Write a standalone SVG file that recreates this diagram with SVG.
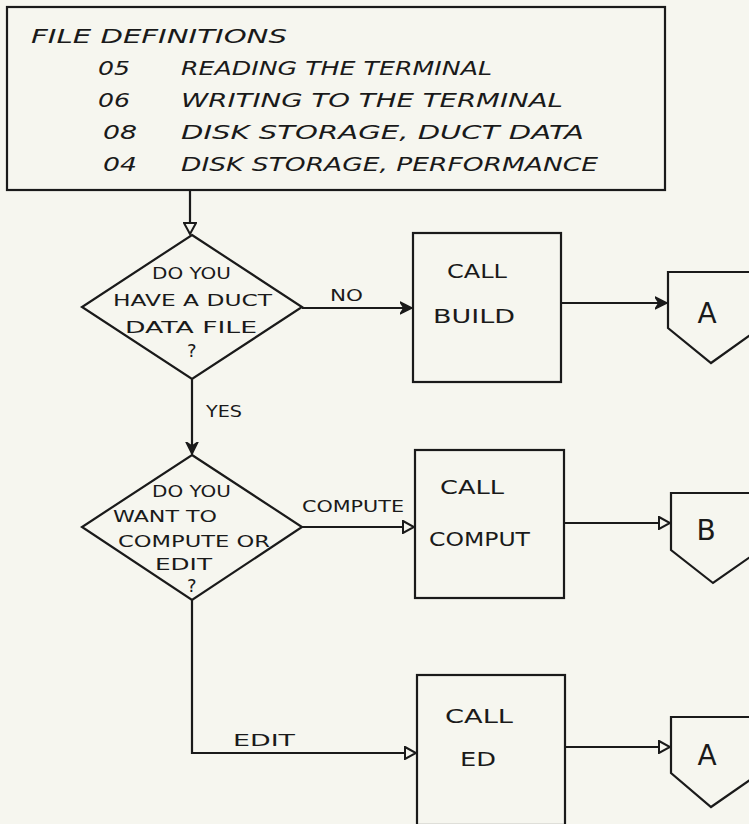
<svg xmlns="http://www.w3.org/2000/svg" width="749" height="824" viewBox="0 0 749 824">
<style>
.s{fill:none;stroke:#1a1a1a;stroke-width:2.2;stroke-linejoin:miter}
.t{font-family:"DejaVu Sans","Liberation Sans",Arial,sans-serif;fill:#1a1a1a}
.hi{font-size:19px;font-style:italic}
.d{font-size:15px}
.q{font-size:18px}
.b{font-size:20px}
.c{font-size:28px;text-anchor:middle}
</style>
<defs>
<marker id="open" markerWidth="14" markerHeight="14" refX="12" refY="7" orient="auto" markerUnits="userSpaceOnUse">
<path d="M1,1 L12,7 L1,13 Z" fill="#f6f6ef" stroke="#1a1a1a" stroke-width="2"/>
</marker>
<marker id="fill" markerWidth="14" markerHeight="18" refX="12" refY="7" orient="auto" markerUnits="userSpaceOnUse">
<path d="M0,1 L12,7 L0,13 L4,7 Z" fill="#1a1a1a" stroke="#1a1a1a" stroke-width="1.5"/>
</marker>
</defs>
<rect width="749" height="824" fill="#f6f6ef"/>

<g id="file-definitions">
<rect class="s" x="7" y="7" width="658" height="183"/>
<text class="t hi" x="31" y="43" textLength="256" lengthAdjust="spacingAndGlyphs">FILE DEFINITIONS</text>
<text class="t hi" x="98" y="75" textLength="32" lengthAdjust="spacingAndGlyphs">05</text>
<text class="t hi" x="181" y="75" textLength="311" lengthAdjust="spacingAndGlyphs">READING THE TERMINAL</text>
<text class="t hi" x="98" y="107" textLength="32" lengthAdjust="spacingAndGlyphs">06</text>
<text class="t hi" x="181" y="107" textLength="382" lengthAdjust="spacingAndGlyphs">WRITING TO THE TERMINAL</text>
<text class="t hi" x="103" y="139" textLength="34" lengthAdjust="spacingAndGlyphs">08</text>
<text class="t hi" x="181" y="139" textLength="403" lengthAdjust="spacingAndGlyphs">DISK STORAGE, DUCT DATA</text>
<text class="t hi" x="103" y="171" textLength="34" lengthAdjust="spacingAndGlyphs">04</text>
<text class="t hi" x="181" y="171" textLength="417" lengthAdjust="spacingAndGlyphs">DISK STORAGE, PERFORMANCE</text>
</g>

<g id="decision-duct-file">
<path class="s" d="M192,235 L302,307 L192,379 L82,307 Z"/>
<text class="t d" x="152" y="279" textLength="79" lengthAdjust="spacingAndGlyphs">DO YOU</text>
<text class="t d" x="113" y="306" textLength="159" lengthAdjust="spacingAndGlyphs">HAVE A DUCT</text>
<text class="t d" x="125" y="333" textLength="132" lengthAdjust="spacingAndGlyphs">DATA FILE</text>
<text class="t q" x="187" y="357">?</text>
</g>

<g id="call-build">
<rect class="s" x="413" y="233" width="148" height="149"/>
<text class="t b" x="447" y="278" textLength="60" lengthAdjust="spacingAndGlyphs">CALL</text>
<text class="t b" x="433" y="323" textLength="82" lengthAdjust="spacingAndGlyphs">BUILD</text>
</g>

<g id="connector-a1">
<path class="s" d="M668,272 L760,272 L760,328 L711,363 L668,328 Z"/>
<text class="t c" x="707" y="323">A</text>
</g>

<g id="decision-compute-edit">
<path class="s" d="M192,455 L302,527 L192,600 L82,527 Z"/>
<text class="t d" x="152" y="497" textLength="79" lengthAdjust="spacingAndGlyphs">DO YOU</text>
<text class="t d" x="113" y="522" textLength="104" lengthAdjust="spacingAndGlyphs">WANT TO</text>
<text class="t d" x="118" y="547" textLength="152" lengthAdjust="spacingAndGlyphs">COMPUTE OR</text>
<text class="t d" x="155" y="570" textLength="57" lengthAdjust="spacingAndGlyphs">EDIT</text>
<text class="t q" x="187" y="592">?</text>
</g>

<g id="call-comput">
<rect class="s" x="415" y="450" width="149" height="148"/>
<text class="t b" x="440" y="494" textLength="64" lengthAdjust="spacingAndGlyphs">CALL</text>
<text class="t b" x="429" y="546" textLength="101" lengthAdjust="spacingAndGlyphs">COMPUT</text>
</g>

<g id="connector-b">
<path class="s" d="M671,493 L760,493 L760,550 L713,583 L671,550 Z"/>
<text class="t c" x="706" y="540">B</text>
</g>

<g id="call-ed">
<rect class="s" x="417" y="675" width="148" height="150"/>
<text class="t b" x="445" y="723" textLength="68" lengthAdjust="spacingAndGlyphs">CALL</text>
<text class="t b" x="460" y="766" textLength="36" lengthAdjust="spacingAndGlyphs">ED</text>
</g>

<g id="connector-a2">
<path class="s" d="M671,717 L760,717 L760,773 L711,807 L671,773 Z"/>
<text class="t c" x="707" y="765">A</text>
</g>

<g id="connectors">
<path class="s" d="M190,190 L190,234" marker-end="url(#open)"/>
<path class="s" d="M302,308 L412,308" marker-end="url(#fill)"/>
<text class="t d" x="330" y="301" textLength="33" lengthAdjust="spacingAndGlyphs">NO</text>
<path class="s" d="M561,303 L667,303" marker-end="url(#fill)"/>
<path class="s" d="M192,379 L192,454" marker-end="url(#fill)"/>
<text class="t d" x="206" y="417" textLength="36" lengthAdjust="spacingAndGlyphs">YES</text>
<path class="s" d="M302,527 L414,527" marker-end="url(#open)"/>
<text class="t d" x="302" y="512" textLength="102" lengthAdjust="spacingAndGlyphs">COMPUTE</text>
<path class="s" d="M564,523 L670,523" marker-end="url(#open)"/>
<path class="s" d="M192,600 L192,753 L416,753" marker-end="url(#open)"/>
<text class="t d" x="233" y="746" textLength="62" lengthAdjust="spacingAndGlyphs">EDIT</text>
<path class="s" d="M565,747 L670,747" marker-end="url(#open)"/>
</g>
</svg>
